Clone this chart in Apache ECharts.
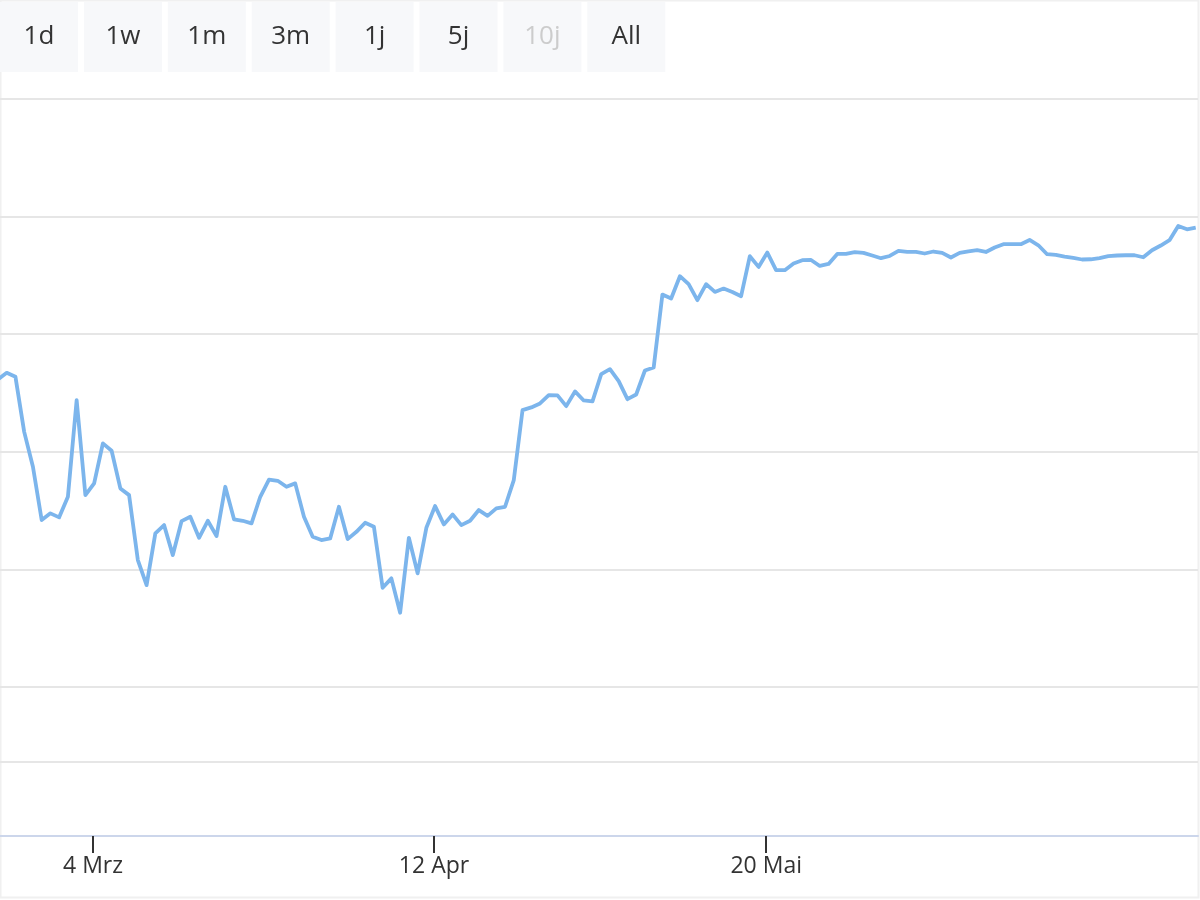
<!DOCTYPE html>
<html>
<head>
<meta charset="utf-8">
<script src="https://cdn.jsdelivr.net/npm/echarts@6/dist/echarts.min.js"></script>
<style>
html,body{margin:0;padding:0;background:#fff;}
#chart{width:1200px;height:900px;}
</style>
</head>
<body>
<div id="chart"></div>
<script>
// ---- data ----
var rangeButtons = ['1d', '1w', '1m', '3m', '1j', '5j', '10j', 'All'];
var disabledButtons = ['10j'];

// first observation (daily series), UTC
var firstDate = Date.UTC(2024, 1, 22, 3, 0);
var DAY = 86400000;

var values = [
  136.16, 136.71, 136.37, 131.69, 128.72, 124.19, 124.76, 124.42, 126.17, 134.39,
  126.31, 127.31, 130.71, 130.08, 126.88, 126.31, 120.79, 118.66, 123.06, 123.76,
  121.21, 124.10, 124.47, 122.68, 124.13, 122.83, 127.02, 124.25, 124.13, 123.91,
  126.17, 127.63, 127.53, 127.02, 127.31, 124.47, 122.77, 122.49, 122.63, 125.32,
  122.57, 123.19, 123.96, 123.62, 118.43, 119.23, 116.31, 122.68, 119.66, 123.53,
  125.38, 123.82, 124.67, 123.76, 124.13, 125.04, 124.55, 125.18, 125.32, 127.59,
  133.54, 133.77, 134.11, 134.81, 134.79, 133.88, 135.13, 134.36, 134.28, 136.60,
  137.02, 136.00, 134.47, 134.87, 136.91, 137.17, 143.37, 143.03, 144.93, 144.25,
  142.89, 144.25, 143.59, 143.88, 143.59, 143.23, 146.63, 145.72, 146.94, 145.44,
  145.44, 146.01, 146.29, 146.31, 145.80, 145.97, 146.82, 146.82, 146.97, 146.91,
  146.69, 146.46, 146.65, 147.08, 146.99, 146.99, 146.86, 147.03, 146.91, 146.52,
  146.91, 147.05, 147.14, 146.99, 147.37, 147.65, 147.65, 147.65, 148.01, 147.56,
  146.80, 146.74, 146.60, 146.48, 146.35, 146.37, 146.46, 146.63, 146.69, 146.71,
  146.71, 146.54, 147.14, 147.54, 147.99, 149.20, 148.92, 149.07
];

var xTickDates = [Date.UTC(2024, 2, 4), Date.UTC(2024, 3, 12), Date.UTC(2024, 4, 20)];
var xTickLabels = ['4 Mrz', '12 Apr', '20 Mai'];

var yGridValues = [103.66, 110, 120, 130, 140, 150, 160];
var yMin = 97.32, yMax = 160;

// ---- build ----
var seriesData = values.map(function (v, i) { return [firstDate + i * DAY, v]; });

var FONT = '"Open Sans", "Noto Sans", sans-serif';

var graphics = [];
graphics.push({
  type: 'rect', silent: true, z: -10,
  shape: { x: 0.5, y: 0.5, width: 1198, height: 897 },
  style: { fill: null, stroke: '#f0f0f0', lineWidth: 2 }
});
rangeButtons.forEach(function (label, k) {
  var bx = k * 83.9;
  graphics.push({
    type: 'rect', silent: true,
    shape: { x: bx, y: 2, width: 78, height: 70 },
    style: { fill: '#f7f8fa' }
  });
  graphics.push({
    type: 'text', silent: true,
    x: bx + 39, y: 37,
    style: {
      text: label,
      fontSize: 26,
      fontFamily: FONT,
      fill: disabledButtons.indexOf(label) >= 0 ? '#cccccc' : '#333333',
      align: 'center',
      verticalAlign: 'middle'
    }
  });
});

var chart = echarts.init(document.getElementById('chart'), null, { renderer: 'canvas' });
chart.setOption({
  animation: false,
  backgroundColor: '#ffffff',
  grid: { left: 0, right: 2, top: 99, bottom: 64, containLabel: false },
  xAxis: {
    type: 'value',
    min: firstDate + 0.233 * DAY,
    max: firstDate + 137.26 * DAY,
    axisLine: { show: true, lineStyle: { color: '#ccd6eb', width: 2 } },
    axisTick: {
      show: true, length: 17, customValues: xTickDates,
      lineStyle: { color: '#333333', width: 2 }
    },
    axisLabel: {
      show: true, customValues: xTickDates, margin: 19,
      fontSize: 23, fontFamily: FONT, color: '#333333',
      formatter: function (val) {
        var idx = xTickDates.indexOf(val);
        return idx >= 0 ? xTickLabels[idx] : '';
      }
    },
    splitLine: { show: false }
  },
  yAxis: {
    type: 'value',
    min: yMin, max: yMax,
    axisLine: { show: false },
    axisTick: { show: false, customValues: yGridValues },
    axisLabel: { show: false, customValues: yGridValues },
    splitLine: { show: true, lineStyle: { color: '#e6e6e6', width: 2 } }
  },
  series: [{
    type: 'line',
    data: seriesData,
    showSymbol: false,
    symbol: 'none',
    lineStyle: { color: '#7cb5ec', width: 3.8, join: 'round' },
    clip: true
  }],
  graphic: graphics
});
</script>
</body>
</html>
